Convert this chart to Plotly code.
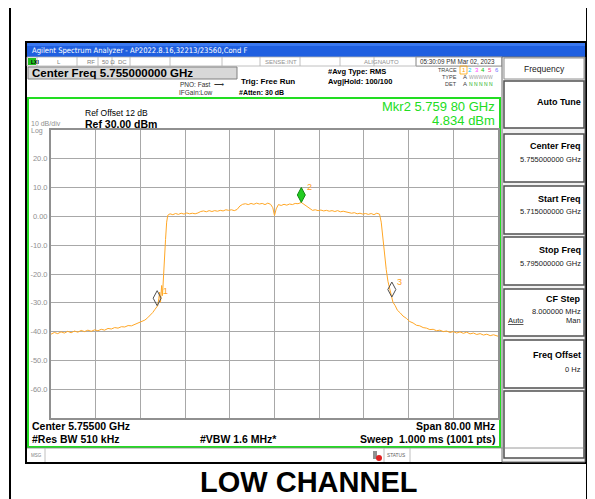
import plotly.graph_objects as go

# Browser page has an 8 px body margin: the figure starts at (8, 8) of the window.
OFF = 8
W, H = 595 - OFF, 499 - OFF
F = "Liberation Sans"

# ---------------- data ----------------
freq_mhz = [
    5715.0, 5715.6, 5716.2, 5716.8, 5717.4, 5718.0, 5718.6, 5719.2, 5719.8, 5720.4,
    5721.0, 5721.6, 5722.2, 5722.8, 5723.4, 5724.0, 5724.6, 5725.2, 5725.8, 5726.4,
    5727.0, 5727.6, 5728.2, 5728.8, 5729.4, 5730.0, 5730.6, 5731.2, 5731.8, 5732.3,
    5732.8, 5733.2, 5733.6, 5733.9, 5734.1, 5734.3, 5734.45, 5734.6, 5734.8, 5734.95,
    5735.1, 5735.3, 5735.5, 5735.7, 5735.9,
    5736.3, 5736.8, 5737.3, 5737.8, 5738.3, 5738.8, 5739.3, 5739.8, 5740.3, 5740.8,
    5741.3, 5741.8, 5742.3, 5742.8, 5743.3, 5743.8, 5744.3, 5744.8, 5745.3, 5745.8,
    5746.3, 5746.8, 5747.3, 5747.8, 5748.3, 5748.8, 5749.3, 5749.8, 5750.3, 5750.8,
    5751.3, 5751.8, 5752.3, 5752.8, 5753.3, 5753.8, 5754.3, 5754.7, 5755.0, 5755.3,
    5755.7, 5756.2, 5756.7, 5757.2, 5757.7, 5758.2, 5758.7, 5759.2, 5759.8, 5760.3,
    5760.8, 5761.3, 5761.8, 5762.3, 5762.8, 5763.3, 5763.8, 5764.3, 5764.8, 5765.3,
    5765.8, 5766.3, 5766.8, 5767.3, 5767.8, 5768.3, 5768.8, 5769.3, 5769.8, 5770.3,
    5770.8, 5771.3, 5771.8, 5772.3, 5772.8, 5773.3, 5773.8,
    5774.1, 5774.4, 5774.7, 5775.0, 5775.3, 5775.6, 5775.9, 5776.2, 5776.6, 5777.0,
    5777.5, 5778.0, 5778.6, 5779.2, 5779.8, 5780.4, 5781.0, 5781.6, 5782.2, 5782.8,
    5783.4, 5784.0, 5784.6, 5785.2, 5785.8, 5786.4, 5787.0, 5787.6, 5788.2, 5788.8,
    5789.4, 5790.0, 5790.6, 5791.2, 5791.8, 5792.4, 5793.0, 5793.6, 5794.2, 5795.0,
]
level_dbm = [
    -40.9, -40.3, -40.7, -40.1, -40.5, -39.9, -40.4, -39.8, -40.2, -39.6,
    -40.0, -39.5, -39.9, -39.4, -39.7, -39.2, -39.5, -38.9, -39.1, -38.6,
    -38.8, -38.3, -38.4, -37.9, -38.0, -37.5, -37.2, -36.6, -36.0, -35.2,
    -34.3, -33.4, -32.3, -31.5, -31.0, -28.5, -26.3, -29.8, -24.0, -27.5,
    -21.0, -15.0, -8.0, -2.0, 0.4,
    0.9, 0.6, 1.0, 0.7, 1.1, 0.8, 1.2, 0.9, 1.1, 0.9,
    1.2, 1.7, 1.9, 1.6, 2.0, 1.7, 2.0, 1.8, 2.1, 1.9,
    2.3, 2.1, 2.3, 2.0, 2.4, 3.6, 4.2, 4.4, 4.1, 4.5,
    4.2, 4.6, 4.3, 4.5, 4.1, 4.6, 4.2, 3.0, 0.3, 2.6,
    4.1, 3.8, 4.2, 3.9, 4.3, 4.1, 4.5, 4.4, 4.834, 4.1,
    3.3, 2.6, 2.1, 2.3, 2.0, 2.2, 1.9, 2.1, 1.8, 2.0,
    1.7, 2.0, 1.6, 1.8, 1.5, 1.3, 1.1, 1.3, 0.9, 1.1,
    0.8, 1.0, 0.7, 1.0, 0.6, 1.1, 0.8,
    -2.0, -8.0, -13.5, -18.5, -22.5, -25.0, -28.0, -29.8, -31.0, -32.6,
    -33.5, -34.6, -35.4, -36.5, -37.0, -37.8, -38.0, -38.6, -38.8, -39.3,
    -39.2, -39.7, -39.5, -40.0, -39.8, -40.3, -40.0, -40.5, -40.1, -40.6,
    -40.2, -40.8, -40.5, -41.0, -40.7, -41.2, -40.9, -41.4, -41.1, -41.6,
]
marker_ids = ["1", "2", "3"]
marker_freq = [5734.0, 5759.8, 5776.0]
marker_level = [-31.0, 4.834, -28.0]
y_ticks = [30, 20, 10, 0, -10, -20, -30, -40, -50, -60, -70]
y_ticktext = ["", "20.0", "10.0", "0.00", "-10.0", "-20.0", "-30.0", "-40.0", "-50.0", "-60.0", ""]
x_start, x_stop, x_div = 5715.0, 5795.0, 8.0
trace_colors = ["#FFA500", "#00C8FF", "#FF40FF", "#00C000", "#FF3399", "#7070FF"]

# ---------------- helpers (window pixel -> paper) ----------------
shapes, ann = [], []

def px(x):
    return (x - OFF) / W

def py(y):
    return 1 - (y - OFF) / H

def rect(x0, y0, x1, y1, fill=None, line=None, lw=1):
    shapes.append(dict(type="rect", xref="paper", yref="paper",
                       x0=px(x0), x1=px(x1), y0=py(y1), y1=py(y0),
                       fillcolor=fill or "rgba(0,0,0,0)",
                       line=dict(color=line or "rgba(0,0,0,0)", width=lw if line else 0),
                       layer="below"))

def hline(x0, x1, y, color, lw=1):
    shapes.append(dict(type="line", xref="paper", yref="paper", x0=px(x0), x1=px(x1),
                       y0=py(y), y1=py(y), line=dict(color=color, width=lw)))

def vline(x, y0, y1, color, lw=1):
    shapes.append(dict(type="line", xref="paper", yref="paper", x0=px(x), x1=px(x),
                       y0=py(y0), y1=py(y1), line=dict(color=color, width=lw)))

def txt(x, y, s, size=9, color="black", bold=False, anchor="left", family=F):
    ann.append(dict(x=px(x), y=py(y), xref="paper", yref="paper",
                    text=f"<b>{s}</b>" if bold else s, showarrow=False,
                    xanchor=anchor, yanchor="middle",
                    font=dict(size=size, color=color, family=family)))

# ---------------- frame & window ----------------
rect(10, 7, 587, 520, line="black", lw=2)
rect(26, 42, 586, 463, fill="white", line="black", lw=2)
rect(27, 43, 585, 57, fill="#1F5FE0")
rect(27, 43, 585, 46, fill="#3A78F0")
txt(30, 50, "Agilent Spectrum Analyzer - AP2022.8.16,32213/23560,Cond F", 7.6, "white",
    family="DejaVu Sans Condensed")

# status row
rect(27, 57, 502, 66, fill="white", line="#B0B0B0", lw=0.8)
for xx in [37, 77, 98, 112, 130, 170, 222, 260, 300, 340, 374, 416]:
    vline(xx, 57, 66, "#B0B0B0", 0.8)
rect(28, 58, 36, 65, fill="#20C020")
txt(29, 61.5, "LXI", 5, "black", bold=True)
txt(55, 61.5, "L", 6, "#808080")
txt(85, 61.5, "RF", 6, "#808080")
txt(100, 61.5, "50 Ω", 6, "#808080")
txt(116, 61.5, "DC", 6, "#808080")
txt(263, 61.5, "SENSE:INT", 6, "#909090")
txt(362, 61.5, "ALIGNAUTO", 6, "#909090")
rect(416, 57, 502, 66, fill="white", line="#808080", lw=0.8)
txt(418, 61.5, "05:30:09 PM Mar 02, 2023", 6.3, "#303030")

# header info
rect(28, 67, 237, 79, fill="#D8D8D8", line="#808080", lw=1)
txt(30, 73, "Center Freq 5.755000000 GHz", 11.5, bold=True)
txt(178, 84, "PNO: Fast  ⟶", 6.5, "#303030")
txt(177, 92, "IFGain:Low", 6.5, "#303030")
txt(239, 82, "Trig: Free Run", 8, bold=True)
txt(237, 92, "#Atten: 30 dB", 7, bold=True)
txt(326, 71, "#Avg Type: RMS", 7.5, bold=True)
txt(326, 81, "Avg|Hold: 100/100", 7.5, bold=True)
txt(459, 70, "TRACE", 5.5, "#404040", anchor="right")
txt(459, 77, "TYPE", 5.5, "#404040", anchor="right")
txt(459, 84, "DET", 5.5, "#404040", anchor="right")
rect(460, 66, 467, 74, line="#FFA500", lw=0.8)
for i, c in enumerate(trace_colors):
    txt(463.5 + i * 6.6, 70, str(i + 1), 6, c, anchor="center")
txt(461, 77.5, "A", 6, "#404040")
txt(467, 77.5, "WWWWW", 5, "#A0A0A0")
txt(461, 84.5, "A", 6, "#404040")
txt(467, 84.5, "N N N N N", 5, "#20B020")

# green measurement frame
rect(28, 98, 500, 447, line="#22DD22", lw=2)
txt(497, 106, "Mkr2 5.759 80 GHz", 13, "#22DD22", anchor="right")
txt(497, 120, "4.834 dBm", 13, "#22DD22", anchor="right")
txt(83, 113, "Ref Offset 12 dB", 8.5)
txt(83, 123.5, "Ref 30.00 dBm", 10.5, bold=True)
txt(29, 123.5, "10 dB/div", 7, "#909090")
txt(29, 130.5, "Log", 7, "#909090")

# bottom info
txt(30, 426, "Center 5.75500 GHz", 10.5, bold=True)
txt(497, 426, "Span 80.00 MHz", 10.5, bold=True, anchor="right")
txt(30, 438.5, "#Res BW 510 kHz", 10.5, bold=True)
txt(238, 438.5, "#VBW 1.6 MHz*", 10.5, bold=True, anchor="center")
txt(497, 438.5, "Sweep  1.000 ms (1001 pts)", 10.5, bold=True, anchor="right")
hline(27, 585, 448, "#808080", 0.8)
vline(45, 448, 462, "#B0B0B0", 0.8)
txt(29, 455, "MSG", 4.5, "#808080")
rect(373, 451, 377, 459, fill="#909090")
shapes.append(dict(type="circle", xref="paper", yref="paper", x0=px(376), x1=px(382),
                   y0=py(461), y1=py(455), fillcolor="#E02020", line=dict(width=0)))
vline(384, 448, 462, "#B0B0B0", 0.8)
txt(385, 455, "STATUS", 4.8, "#606060")
vline(410, 448, 462, "#B0B0B0", 0.8)

# right soft-key panel
rect(502, 57, 585, 462, fill="#F2F2F2", line="#707070", lw=1)
rect(504, 58, 584, 79, fill="white", line="#909090", lw=1)
txt(544, 68.5, "Frequency", 8.5, "#202020", anchor="center")
boxes = [(81, 128), (134, 182), (186, 234), (237, 285), (289, 336), (340, 388), (391, 458)]
for (a, b) in boxes:
    rect(504, a, 584, b, fill="white", line="#505050", lw=1.5)
txt(583, 102, "Auto Tune", 9, bold=True, anchor="right")
txt(583, 146, "Center Freq", 9, bold=True, anchor="right")
txt(583, 159.5, "5.755000000 GHz", 7.5, "#202020", anchor="right")
txt(583, 198.5, "Start Freq", 9, bold=True, anchor="right")
txt(583, 212, "5.715000000 GHz", 7.5, "#202020", anchor="right")
txt(583, 250, "Stop Freq", 9, bold=True, anchor="right")
txt(583, 264, "5.795000000 GHz", 7.5, "#202020", anchor="right")
txt(583, 299, "CF Step", 9, bold=True, anchor="right")
txt(583, 311, "8.000000 MHz", 7.5, "#202020", anchor="right")
txt(506, 320.5, "<u>Auto</u>", 7.5, "#202020")
txt(583, 320.5, "Man", 7.5, "#202020", anchor="right")
txt(583, 355, "Freq Offset", 9, bold=True, anchor="right")
txt(583, 369, "0 Hz", 7.5, "#202020", anchor="right")

# caption
txt(308, 482, "LOW CHANNEL", 29, bold=True, anchor="center", family="Liberation Sans")

# ---------------- markers (diamond above trace point) ----------------
for mid, mf, ml in zip(marker_ids, marker_freq, marker_level):
    fill = "#22CC22" if mid == "2" else "rgba(255,255,255,0)"
    lc = "#118811" if mid == "2" else "#505050"
    shapes.append(dict(type="path", xref="x", yref="y", xsizemode="pixel", ysizemode="pixel",
                       xanchor=mf, yanchor=ml,
                       path="M 0 0 L 4 7.5 L 0 15 L -4 7.5 Z",
                       fillcolor=fill, line=dict(color=lc, width=1), layer="above"))
    ann.append(dict(x=mf, y=ml, xref="x", yref="y", text=mid, showarrow=False,
                    xshift=8, yshift=15, font=dict(size=9, color="#FFA020", family=F)))

# ---------------- figure ----------------
fig = go.Figure()
fig.add_trace(go.Scatter(x=freq_mhz, y=level_dbm, mode="lines",
                         line=dict(color="#FFA726", width=1), hoverinfo="skip"))

fig.update_layout(
    width=W, height=H, margin=dict(l=0, r=0, t=0, b=0),
    paper_bgcolor="white", plot_bgcolor="white", showlegend=False,
    shapes=shapes, annotations=ann,
    xaxis=dict(domain=[px(51), px(498)], range=[x_start, x_stop], dtick=x_div, tick0=x_start,
               showticklabels=False, ticks="", showgrid=True, gridcolor="#A8A8A8", gridwidth=1,
               zeroline=False, showline=True, linecolor="#909090", linewidth=2, mirror=True),
    yaxis=dict(domain=[py(418), py(130)], range=[-70, 30], tickmode="array",
               tickvals=y_ticks, ticktext=y_ticktext, ticks="",
               tickfont=dict(size=7.5, color="#909090", family=F),
               showgrid=True, gridcolor="#A8A8A8", gridwidth=1, zeroline=False,
               showline=True, linecolor="#909090", linewidth=2, mirror=True),
)
fig.write_html("out.html")
